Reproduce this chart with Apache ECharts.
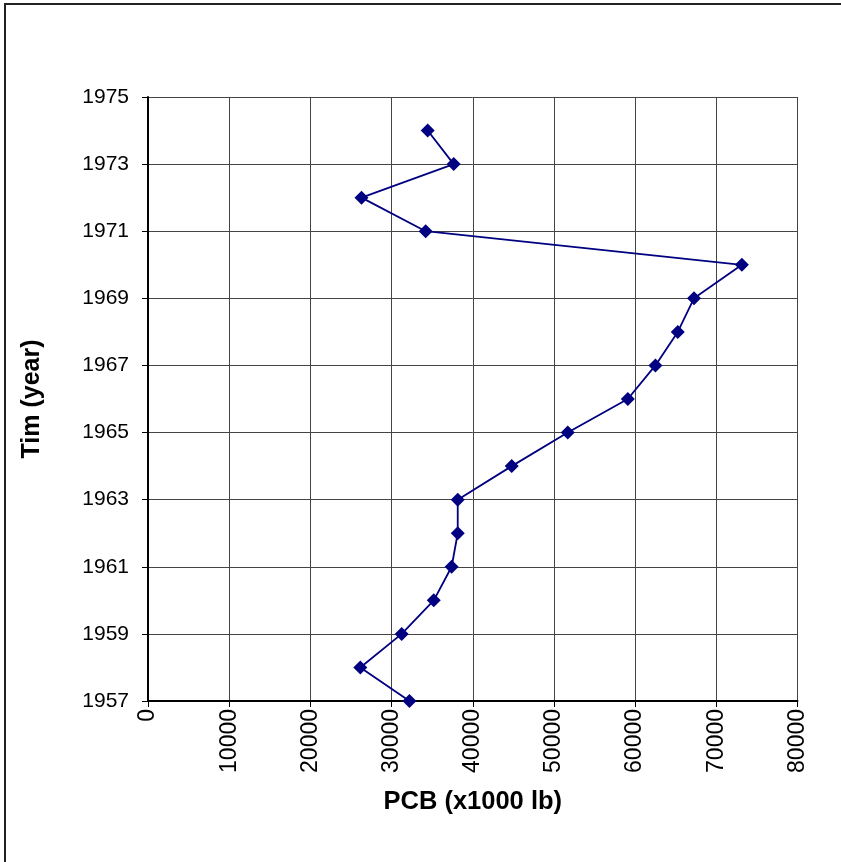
<!DOCTYPE html>
<html>
<head>
<meta charset="utf-8">
<script src="https://cdn.jsdelivr.net/npm/echarts@6/dist/echarts.min.js"></script>
<style>html,body{margin:0;padding:0;background:#fff;}#c{width:841px;height:862px;}</style>
</head>
<body>
<div id="c"></div>
<script>
const years = [1957,1958,1959,1960,1961,1962,1963,1964,1965,1966,1967,1968,1969,1970,1971,1972,1973,1974];
const pcb = [32200,26150,31250,35200,37400,38150,38150,44800,51700,59100,62500,65250,67250,73150,34200,26300,37650,34450];
const xTicks = {min:0, max:80000, interval:10000};
const yTicks = {min:1957, max:1975, interval:2};
const xTitle = 'PCB (x1000 lb)';
const yTitle = 'Tim (year)';

const chart = echarts.init(document.getElementById('c'), null, {renderer:'canvas'});
const font = '"Liberation Sans", Arial, sans-serif';
chart.setOption({
  animation:false,
  backgroundColor:'#fff',
  graphic:[{type:'rect', shape:{x:5,y:4,width:900,height:900}, style:{fill:'none', stroke:'#222', lineWidth:2}, silent:true}],
  grid:{left:148, top:97, right:43.5, bottom:161, containLabel:false},
  xAxis:{
    type:'value', min:xTicks.min, max:xTicks.max, interval:xTicks.interval,
    name:xTitle, nameLocation:'middle', nameGap:88,
    nameTextStyle:{fontFamily:font, fontSize:25.5, fontWeight:'bold', color:'#000'},
    axisLine:{show:true, onZero:false, lineStyle:{color:'#000', width:2}},
    axisTick:{show:true, length:6, lineStyle:{color:'#000', width:1}},
    axisLabel:{rotate:90, margin:8, fontFamily:font, fontSize:23, color:'#000', formatter:v=>String(v)},
    splitLine:{show:true, lineStyle:{color:'#444', width:1}}
  },
  yAxis:{
    type:'value', min:yTicks.min, max:yTicks.max, interval:yTicks.interval,
    name:yTitle, nameLocation:'middle', nameGap:103, nameRotate:90,
    nameTextStyle:{fontFamily:font, fontSize:25, fontWeight:'bold', color:'#000'},
    axisLine:{show:true, onZero:false, lineStyle:{color:'#000', width:2}},
    axisTick:{show:true, length:6, lineStyle:{color:'#000', width:1}},
    axisLabel:{margin:19, fontFamily:font, fontSize:21, color:'#000', formatter:v=>String(v), padding:[4,0,0,0]},
    splitLine:{show:true, lineStyle:{color:'#444', width:1}}
  },
  series:[{
    type:'line',
    data: years.map((y,i)=>[pcb[i], y]),
    symbol:'diamond', symbolSize:14, showAllSymbol:true,
    lineStyle:{color:'#000080', width:1.8},
    itemStyle:{color:'#000080'},
    z:5
  }]
});
</script>
</body>
</html>
